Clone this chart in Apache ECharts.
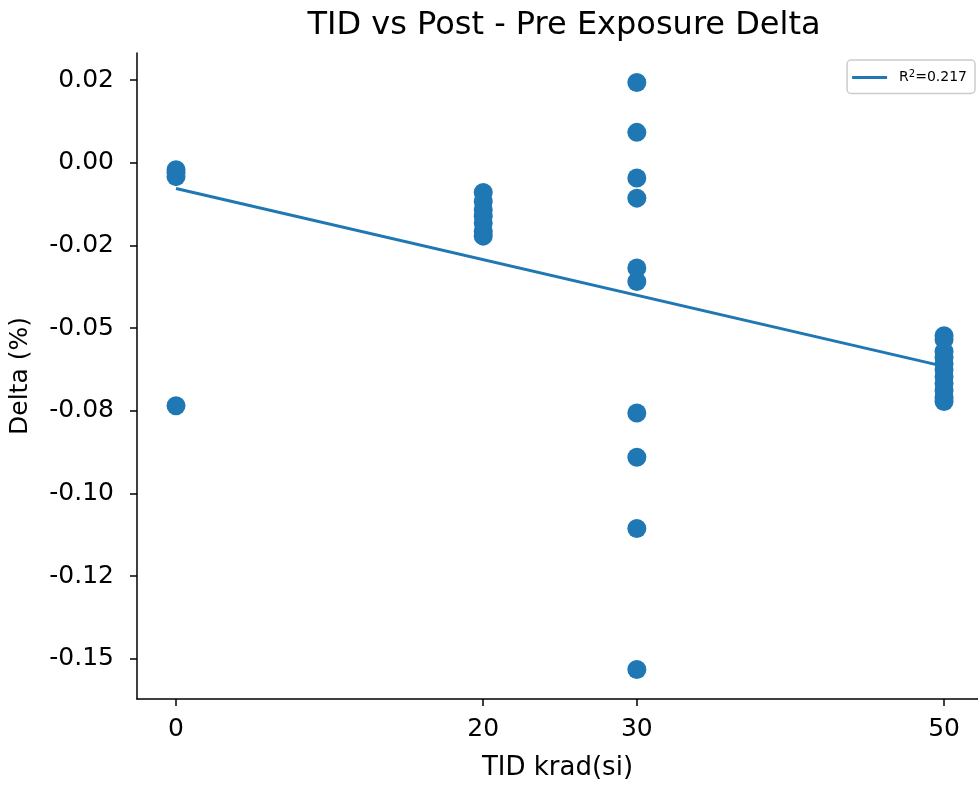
<!DOCTYPE html>
<html>
<head>
<meta charset="utf-8">
<script src="https://cdn.jsdelivr.net/npm/echarts@6/dist/echarts.min.js"></script>
<style>
  html, body { margin: 0; padding: 0; background: #fff; }
  #chart { width: 978px; height: 786px; }
</style>
</head>
<body>
<div id="chart"></div>
<script>
// TID dose (krad) for each measured part, and its delta
const dose0 = [0, 0, 0, 0];
const delta0 = [-0.0021, -0.0030, -0.0042, -0.0735];
const dose20 = [20, 20, 20, 20, 20, 20, 20];
const delta20 = [-0.0090, -0.0117, -0.0142, -0.0162, -0.0182, -0.0208, -0.0222];
const dose30 = [30, 30, 30, 30, 30, 30, 30, 30, 30, 30];
const delta30 = [0.0243, 0.0092, -0.0046, -0.0107, -0.0318, -0.0359, -0.0757, -0.0891, -0.1106, -0.1533];
const dose50 = [50, 50, 50, 50, 50, 50, 50, 50, 50, 50, 50];
const delta50 = [-0.0523, -0.0535, -0.0571, -0.0589, -0.0608, -0.0626, -0.0647, -0.0668, -0.0689, -0.0710, -0.0722];

// fitted line end points
const fitX = [0, 50];
const fitY = [-0.0078, -0.0616];
const fitLabel = "R²=0.217";

const xTicks = [0, 20, 30, 50];
const yTicks = [0.025, 0, -0.025, -0.05, -0.075, -0.1, -0.125, -0.15];
const yTickLabels = ["0.02", "0.00", "-0.02", "-0.05", "-0.08", "-0.10", "-0.12", "-0.15"];

const color = "#1f77b4";
const font = "DejaVu Sans";

const points = [];
[[dose0, delta0], [dose20, delta20], [dose30, delta30], [dose50, delta50]].forEach(([xs, ys]) => {
  xs.forEach((x, i) => points.push([x, ys[i]]));
});

const chart = echarts.init(document.getElementById("chart"));
chart.setOption({
  animation: false,
  textStyle: { fontFamily: font },
  title: {
    text: "TID vs Post - Pre Exposure Delta",
    left: 559,
    top: 5,
    textAlign: "center",
    textStyle: { fontFamily: font, fontSize: 32, fontWeight: "normal", color: "#000" }
  },
  legend: {
    data: [fitLabel],
    right: 3,
    top: 60,
    icon: "rect",
    itemWidth: 35,
    itemHeight: 3,
    itemGap: 4,
    padding: [9, 8, 9, 5],
    borderColor: "#cccccc",
    borderWidth: 1.5,
    borderRadius: 4,
    formatter: () => "{p|}{a|R}{s|2}{a|=0.217}",
    textStyle: {
      rich: {
        p: { width: 7 },
        a: { fontFamily: font, fontSize: 14, color: "#000" },
        s: { fontFamily: font, fontSize: 10, color: "#000", verticalAlign: "bottom", padding: [0, 0, 7, 0] }
      }
    }
  },
  grid: { left: 137, top: 53, right: 0, height: 646, containLabel: false },
  xAxis: {
    type: "value",
    min: -2.54,
    max: 52.21,
    name: "TID krad(si)",
    nameLocation: "middle",
    nameGap: 56,
    nameTextStyle: { fontFamily: font, fontSize: 26, color: "#000" },
    splitLine: { show: false },
    axisLine: { onZero: false, lineStyle: { color: "#000", width: 1.5 } },
    axisTick: { customValues: xTicks, length: 7, lineStyle: { color: "#000", width: 1.5 } },
    axisLabel: { customValues: xTicks, margin: 18, fontFamily: font, fontSize: 25, color: "#000" }
  },
  yAxis: {
    type: "value",
    min: -0.1622,
    max: 0.0332,
    name: "Delta (%)",
    nameLocation: "middle",
    nameGap: 104,
    nameTextStyle: { fontFamily: font, fontSize: 25, color: "#000" },
    splitLine: { show: false },
    axisLine: { show: true, onZero: false, lineStyle: { color: "#000", width: 1.5 } },
    axisTick: { show: true, customValues: yTicks, length: 7, lineStyle: { color: "#000", width: 1.5 } },
    axisLabel: {
      customValues: yTicks,
      margin: 23,
      fontFamily: font,
      fontSize: 25,
      color: "#000",
      formatter: (v) => {
        const i = yTicks.findIndex(t => Math.abs(t - v) < 1e-9);
        return i >= 0 ? yTickLabels[i] : "";
      }
    }
  },
  series: [
    {
      type: "scatter",
      data: points,
      symbolSize: 19,
      itemStyle: { color: color, opacity: 1 },
      z: 2
    },
    {
      name: fitLabel,
      type: "line",
      data: fitX.map((x, i) => [x, fitY[i]]),
      showSymbol: false,
      symbol: "none",
      lineStyle: { color: color, width: 3 },
      itemStyle: { color: color },
      z: 3
    }
  ]
});
</script>
</body>
</html>
